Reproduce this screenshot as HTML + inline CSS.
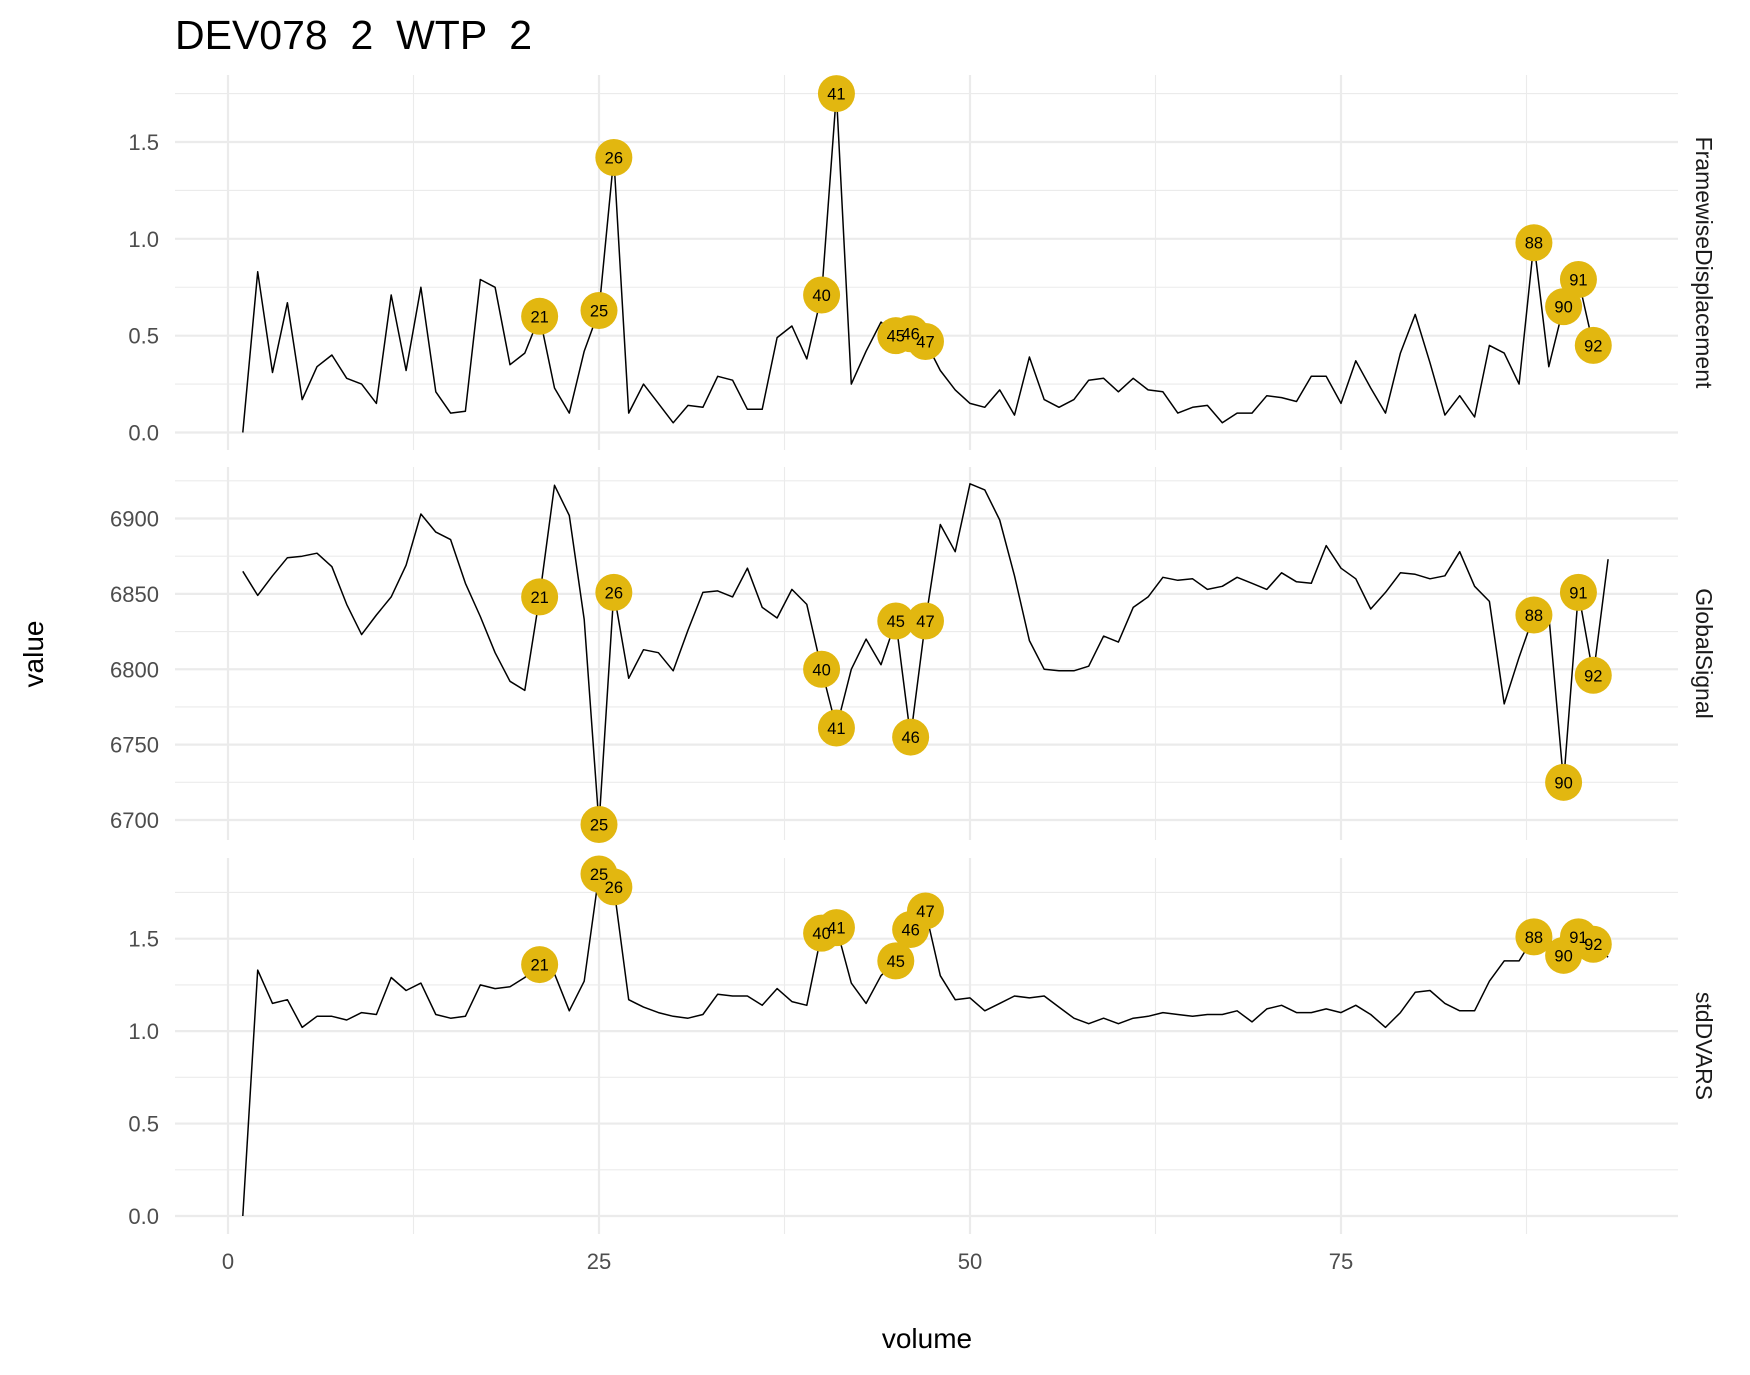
<!DOCTYPE html>
<html><head><meta charset="utf-8"><style>
html,body{margin:0;padding:0;background:#fff;}
svg{display:block;font-family:"Liberation Sans",sans-serif;}
</style></head><body>
<svg id="chart" width="1750" height="1375" viewBox="0 0 1750 1375" xmlns="http://www.w3.org/2000/svg">
<rect width="1750" height="1375" fill="#fff"/>
<text x="175" y="49" font-size="41" fill="#000" style="white-space:pre" xml:space="preserve">DEV078  2  WTP  2</text>
<text x="0" y="0" font-size="28" fill="#000" text-anchor="middle" transform="translate(43,654) rotate(-90)">value</text>
<text x="927" y="1348" font-size="28" fill="#000" text-anchor="middle">volume</text>
<g id="plots"></g>
</svg>
<script>
const fdValues=[0,0.83,0.31,0.67,0.17,0.34,0.40,0.28,0.25,0.15,0.71,0.32,0.75,0.21,0.10,0.11,0.79,0.75,0.35,0.41,0.60,0.23,0.10,0.42,0.63,1.42,0.10,0.25,0.15,0.05,0.14,0.13,0.29,0.27,0.12,0.12,0.49,0.55,0.38,0.71,1.75,0.25,0.42,0.57,0.50,0.51,0.47,0.32,0.22,0.15,0.13,0.22,0.09,0.39,0.17,0.13,0.17,0.27,0.28,0.21,0.28,0.22,0.21,0.10,0.13,0.14,0.05,0.10,0.10,0.19,0.18,0.16,0.29,0.29,0.15,0.37,0.23,0.10,0.41,0.61,0.36,0.09,0.19,0.08,0.45,0.41,0.25,0.98,0.34,0.65,0.79,0.45];
const gsValues=[6865,6849,6862,6874,6875,6877,6868,6843,6823,6836,6848,6869,6903,6891,6886,6857,6835,6811,6792,6786,6848,6922,6902,6833,6697,6851,6794,6813,6811,6799,6826,6851,6852,6848,6867,6841,6834,6853,6843,6800,6761,6800,6820,6803,6832,6755,6832,6896,6878,6923,6919,6899,6862,6819,6800,6799,6799,6802,6822,6818,6841,6848,6861,6859,6860,6853,6855,6861,6857,6853,6864,6858,6857,6882,6867,6860,6840,6851,6864,6863,6860,6862,6878,6855,6845,6777,6808,6836,6836,6725,6851,6796,6873];
const dvarsValues=[0,1.33,1.15,1.17,1.02,1.08,1.08,1.06,1.10,1.09,1.29,1.22,1.26,1.09,1.07,1.08,1.25,1.23,1.24,1.29,1.36,1.31,1.11,1.27,1.85,1.78,1.17,1.13,1.10,1.08,1.07,1.09,1.20,1.19,1.19,1.14,1.23,1.16,1.14,1.53,1.56,1.26,1.15,1.30,1.38,1.55,1.65,1.30,1.17,1.18,1.11,1.15,1.19,1.18,1.19,1.13,1.07,1.04,1.07,1.04,1.07,1.08,1.10,1.09,1.08,1.09,1.09,1.11,1.05,1.12,1.14,1.10,1.10,1.12,1.10,1.14,1.09,1.02,1.10,1.21,1.22,1.15,1.11,1.11,1.27,1.38,1.38,1.51,1.50,1.41,1.51,1.47,1.40];
const outlierVolumes=[21,25,26,40,41,45,46,47,88,90,91,92];
const xTicks=[0,25,50,75];
const fdTicks=[0,0.5,1.0,1.5];
const gsTicks=[6700,6750,6800,6850,6900];
const dvarsTicks=[0,0.5,1.0,1.5];

const NS="http://www.w3.org/2000/svg";
const g=document.getElementById('plots');
const PL=175,PR=1678;
const xs=v=>228+v*((1341-228)/75);
function mk(tag,attrs,parent){const e=document.createElementNS(NS,tag);for(const k in attrs)e.setAttribute(k,attrs[k]);(parent||g).appendChild(e);return e;}

const panels=[
 {name:'FramewiseDisplacement',vals:fdValues,ticks:fdTicks,top:75,bot:450,v0:0,p0:432.5,v1:1.5,p1:142,fmt:v=>v.toFixed(1),minorStep:0.25},
 {name:'GlobalSignal',vals:gsValues,ticks:gsTicks,top:467,bot:840,v0:6700,p0:820,v1:6900,p1:518.5,fmt:v=>String(v),minorStep:25},
 {name:'stdDVARS',vals:dvarsValues,ticks:dvarsTicks,top:858,bot:1234,v0:0,p0:1216,v1:1.5,p1:938.7,fmt:v=>v.toFixed(1),minorStep:0.25}
];
panels.forEach((p,pi)=>{
  const ys=v=>p.p0+(v-p.v0)*(p.p1-p.p0)/(p.v1-p.v0);
  const inv=y=>p.v0+(y-p.p0)*(p.v1-p.v0)/(p.p1-p.p0);
  const pg=mk('g',{});
  
  
  const vmin=inv(p.bot),vmax=inv(p.top);
  for(let v=Math.ceil(vmin/p.minorStep)*p.minorStep;v<=vmax;v+=p.minorStep){
    const y=ys(v);
    const isMajor=p.ticks.some(t=>Math.abs(t-v)<1e-6);
    const l=mk('line',{x1:PL,x2:PR,y1:y,y2:y,stroke:'#ebebeb','stroke-width':isMajor?2.2:1.1},pg);
    
    
  }
  for(let v=-12.5;v<=100;v+=12.5){
    const x=xs(v); if(x<PL||x>PR) continue;
    const isMajor=xTicks.includes(v);
    const l=mk('line',{x1:x,x2:x,y1:p.top,y2:p.bot,stroke:'#ebebeb','stroke-width':isMajor?2.2:1.1},pg);
    
    
  }
  p.ticks.forEach(t=>{
    const tx=mk('text',{x:159,y:ys(t)+8,'font-size':22,fill:'#4d4d4d','text-anchor':'end'},pg);
    tx.textContent=p.fmt(t);
    
    
  });
  const cy=(p.top+p.bot)/2;
  const st=mk('text',{x:0,y:0,'font-size':23,fill:'#1a1a1a','text-anchor':'middle',transform:`translate(1696,${cy}) rotate(90)`},pg);
  st.textContent=p.name;
  
  
  const pts=p.vals.map((v,i)=>xs(i+1).toFixed(1)+','+ys(v).toFixed(1)).join(' ');
  const pl=mk('polyline',{points:pts,fill:'none',stroke:'#000','stroke-width':1.5,'stroke-linejoin':'round'},pg);
  
  
  outlierVolumes.forEach(vol=>{
    const v=p.vals[vol-1]; if(v===undefined) return;
    const c=mk('circle',{cx:xs(vol),cy:ys(v),r:18.5,fill:'#E2B710'},pg);
    
    
  });
  outlierVolumes.forEach(vol=>{
    const v=p.vals[vol-1]; if(v===undefined) return;
    const t=mk('text',{x:xs(vol),y:ys(v)+6,'font-size':16.5,fill:'#000','text-anchor':'middle'},pg);
    t.textContent=String(vol);
    
    
  });
});
xTicks.forEach(t=>{
  const tx=mk('text',{x:xs(t),y:1269,'font-size':22,fill:'#4d4d4d','text-anchor':'middle'});
  tx.textContent=String(t);
  
  
});
</script>
</body></html>
